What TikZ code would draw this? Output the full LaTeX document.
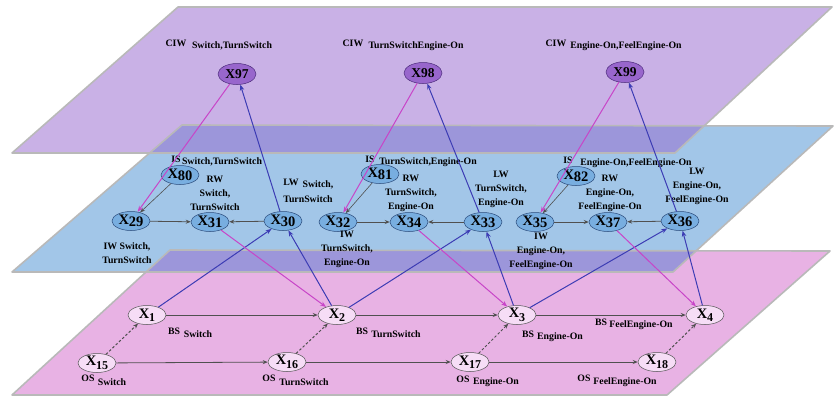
\documentclass[tikz,border=0pt]{standalone}
\usepackage{fontspec}
\setmainfont{Liberation Serif}
\usetikzlibrary{arrows.meta,shapes.geometric}
\definecolor{plpurple}{HTML}{C9B1E6}
\definecolor{plblue}{HTML}{A2C6E8}
\definecolor{plpink}{HTML}{E8B2E4}
\definecolor{plover}{HTML}{9C96DA}
\definecolor{ndpurple}{HTML}{9866CC}
\definecolor{ndpurpleb}{HTML}{4B2A7A}
\definecolor{ndblue}{HTML}{78AEE0}
\definecolor{ndblueb}{HTML}{2A4A7A}
\definecolor{ndpink}{HTML}{F6DDF6}
\definecolor{ndpinkb}{HTML}{555555}
\definecolor{lnblue}{HTML}{3C3CB4}
\definecolor{lnmag}{HTML}{C845C8}
\definecolor{lngray}{HTML}{505050}
\newcommand{\sbx}[1]{X\raisebox{-2pt}{#1}}
\newcommand{\sbk}[1]{X\raisebox{-3.5pt}{\fontsize{12}{12}\selectfont #1}}
\begin{document}
\begin{tikzpicture}[x=1pt,y=-1pt,
  plane/.style={draw=gray!55, line width=1.6pt, line join=round},
  nbase/.style={ellipse, minimum width=38pt, minimum height=19pt, inner sep=0pt, line width=0.5pt, font=\fontsize{14.5}{14.5}\selectfont\bfseries},
  pnode/.style={nbase, draw=ndpurpleb, fill=ndpurple, minimum height=21pt, font=\fontsize{13.5}{13.5}\selectfont\bfseries},
  bnode/.style={nbase, draw=ndblueb, fill=ndblue},
  knode/.style={nbase, draw=ndpinkb, fill=ndpink},
  lab/.style={font=\fontsize{9.8}{14}\selectfont\bfseries, align=center, inner sep=0pt},
  garr/.style={draw=lngray, line width=0.8pt, -{Stealth[length=5pt,width=4pt]}},
  darr/.style={garr, dash pattern=on 2.5pt off 2pt, line width=1pt},
  barr/.style={draw=lnblue, line width=1pt, -{Stealth[length=6pt,width=4.5pt]}},
  marr/.style={draw=lnmag, line width=1pt, -{Stealth[length=6pt,width=4.5pt]}}
]
\useasboundingbox (0,0) rectangle (834,400);
% planes
\fill[plpurple] (12,153) -- (675,153) -- (832,7) -- (178,7) -- cycle;
\fill[plblue] (12,272) -- (673,272) -- (833,126) -- (182,125) -- cycle;
\fill[plover] (182,125) -- (705,125) -- (675,153) -- (150,153) -- cycle;
\fill[plpink] (12,395) -- (667,395) -- (830,251) -- (170,250) -- cycle;
\fill[plover] (170,250) -- (697,250) -- (673,272) -- (146,272) -- cycle;
\draw[plane] (12,153) -- (675,153) -- (832,7) -- (178,7) -- cycle;
\draw[plane] (12,272) -- (673,272) -- (833,126) -- (182,125) -- cycle;
\draw[plane] (12,395) -- (667,395) -- (830,251) -- (170,250) -- cycle;

% nodes: top layer
\node[pnode] (x97) at (237,74) {X97};
\node[pnode] (x98) at (423,73) {X98};
\node[pnode] (x99) at (625,72) {X99};
% middle layer
\node[bnode] (x80) at (180,175) {\sbx{80}};
\node[bnode] (x81) at (380,174) {\sbx{81}};
\node[bnode] (x82) at (576,176) {\sbx{82}};
\node[bnode] (x29) at (131,221) {\sbx{29}};
\node[bnode] (x31) at (210,222) {\sbx{31}};
\node[bnode] (x30) at (283,221) {\sbx{30}};
\node[bnode] (x32) at (338,222) {\sbx{32}};
\node[bnode] (x34) at (409,222) {\sbx{34}};
\node[bnode] (x33) at (483,222) {\sbx{33}};
\node[bnode] (x35) at (535,222) {\sbx{35}};
\node[bnode] (x37) at (608,222) {\sbx{37}};
\node[bnode] (x36) at (680,221) {\sbx{36}};
% bottom layer
\node[knode] (x1) at (147,315) {\sbk{1}};
\node[knode] (x2) at (337,315) {\sbk{2}};
\node[knode] (x3) at (517,315) {\sbk{3}};
\node[knode] (x4) at (705,315) {\sbk{4}};
\node[knode] (x15) at (97,363) {\sbk{15}};
\node[knode] (x16) at (287,362) {\sbk{16}};
\node[knode] (x17) at (470,362) {\sbk{17}};
\node[knode] (x18) at (657,362) {\sbk{18}};

% labels top
\node[lab] (c1a) at (176,43) {CIW};
\node[lab] (c1b) at (232,46) {Switch,TurnSwitch};
\node[lab] (c2a) at (353,43) {CIW};
\node[lab] (c2b) at (416,46) {TurnSwitchEngine-On};
\node[lab] (c3a) at (556,43) {CIW};
\node[lab] (c3b) at (626,46) {Engine-On,FeelEngine-On};
% labels middle
\node[lab] (i1a) at (176,159) {IS};
\node[lab] (i1b) at (222,162) {Switch,TurnSwitch};
\node[lab] (r1) at (215,193) {RW\\Switch,\\TurnSwitch};
\node[lab] (l1a) at (291,182) {LW};
\node[lab] (l1b) at (318,185) {Switch,};
\node[lab] (l1c) at (308,199) {TurnSwitch};
\node[lab] (w1) at (127,253) {IW Switch,\\TurnSwitch};
\node[lab] (w2) at (347,249) {IW\\TurnSwitch,\\Engine-On};
\node[lab] (i2a) at (370,159) {IS};
\node[lab] (i2b) at (428,162) {TurnSwitch,Engine-On};
\node[lab] (r2) at (411,193) {RW\\TurnSwitch,\\Engine-On};
\node[lab] (l2) at (501,189) {LW\\TurnSwitch,\\Engine-On};
\node[lab] (i3a) at (568,160) {IS};
\node[lab] (i3b) at (636,163) {Engine-On,FeelEngine-On};
\node[lab] (r3) at (610,193) {RW\\Engine-On,\\FeelEngine-On};
\node[lab] (l3) at (697,186) {LW\\Engine-On,\\FeelEngine-On};
\node[lab] (w3) at (541,251) {IW\\Engine-On,\\FeelEngine-On};
% labels bottom
\node[lab] (b1a) at (174,331) {BS};
\node[lab] (b1b) at (198,334) {Switch};
\node[lab] (b2a) at (362,331) {BS};
\node[lab] (b2b) at (396,334) {TurnSwitch};
\node[lab] (b3a) at (528,334) {BS};
\node[lab] (b3b) at (560,337) {Engine-On};
\node[lab] (b4a) at (601,322) {BS};
\node[lab] (b4b) at (641,325) {FeelEngine-On};
\node[lab] (o1a) at (88,378) {OS};
\node[lab] (o1b) at (112,382) {Switch};
\node[lab] (o2a) at (269,378) {OS};
\node[lab] (o2b) at (304,382) {TurnSwitch};
\node[lab] (o3a) at (463,379) {OS};
\node[lab] (o3b) at (496,382) {Engine-On};
\node[lab] (o4a) at (584,378) {OS};
\node[lab] (o4b) at (625,382) {FeelEngine-On};

% bottom layer edges
\draw[garr] (x1) -- (x2);
\draw[garr] (x2) -- (x3);
\draw[garr] (x3) -- (x4);
\draw[garr] (x15) -- (x16);
\draw[garr] (x16) -- (x17);
\draw[garr] (x17) -- (x18);
\draw[darr] (x15) -- (x1);
\draw[darr] (x16) -- (x2);
\draw[darr] (x17) -- (x3);
\draw[darr] (x18) -- (x4);
% middle layer edges
\draw[garr, line width=0.6pt] (x80) -- (x29);
\draw[garr] (x29) -- (x31);
\draw[garr] (x30) -- (x31);
\draw[garr, line width=0.6pt] (x81) -- (x32);
\draw[garr] (x32) -- (x34);
\draw[garr] (x33) -- (x34);
\draw[garr, line width=0.6pt] (x82) -- (x35);
\draw[garr] (x35) -- (x37);
\draw[garr] (x36) -- (x37);
% cross-layer blue
\draw[barr] (x1) -- (x30);
\draw[barr] (x2) -- (x30);
\draw[barr] (x30) -- (x97);
\draw[barr] (x2) -- (x33);
\draw[barr] (x3) -- (x33);
\draw[barr] (x33) -- (x98);
\draw[barr] (x3) -- (x36);
\draw[barr] (x4) -- (x36);
\draw[barr] (x36) -- (x99);
% cross-layer magenta
\draw[marr] (x97) -- (x29);
\draw[marr] (x98) -- (x32);
\draw[marr] (x99) -- (x35);
\draw[marr] (x31) -- (x2);
\draw[marr] (x34) -- (x3);
\draw[marr] (x37) -- (x4);
\end{tikzpicture}
\end{document}
